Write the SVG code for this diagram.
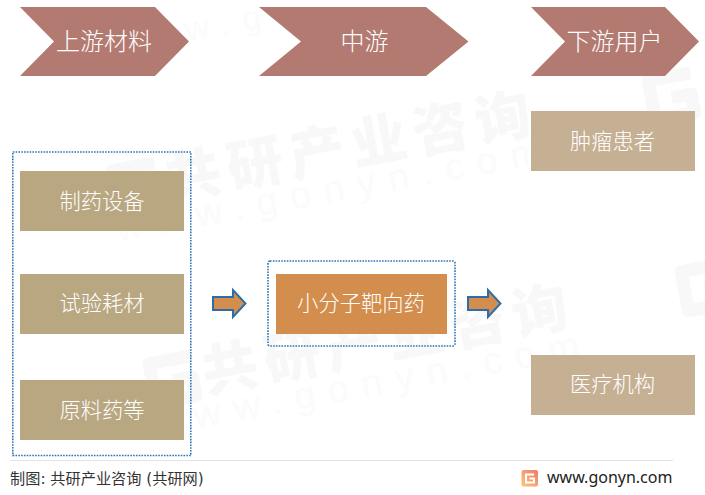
<svg xmlns="http://www.w3.org/2000/svg" width="705" height="495" viewBox="0 0 705 495">
<defs>
<linearGradient id="logo" x1="0" y1="1" x2="1" y2="0"><stop offset="0" stop-color="#fbc77a"/><stop offset="1" stop-color="#ef7a6c"/></linearGradient>
<polygon id="arrow" points="0,7 20,7 20,0 32.500,13.500 20,27 20,20 0,20"/>
<path id="wlogo" d="M50,7H7V47H47V28H27" fill="none" stroke="#f8f8f8" stroke-width="13" stroke-linejoin="round"/>
</defs>
<style>
text{font-family:"Noto Sans CJK SC","Liberation Sans",sans-serif}
.hd{fill:#b27a71}
.ht{fill:#fff;font-size:24px;font-weight:300;text-anchor:middle}
.t{fill:#fff;font-size:21.300px;font-weight:300;text-anchor:middle}
.a{fill:#b8a781}.b{fill:#c5b093}.c{fill:#d38e4d}
.dash{fill:none;stroke:#2e75b6;stroke-width:1.600;stroke-dasharray:1.600 1.200}
.ar{fill:#d38e4d;stroke:#2e6ea8;stroke-width:2}
.wm{fill:#f8f8f8;font-weight:900;font-size:56px;letter-spacing:7px}
.wu{fill:#fbfbfb;font-family:"Liberation Sans",sans-serif;font-size:38px;letter-spacing:13px}
</style>
<rect width="705" height="495" fill="#fff"/>
<g id="watermark">
<use href="#wlogo" transform="translate(104,165) rotate(-10.500)"/>
<use href="#wlogo" transform="translate(141,358) rotate(-10.500)"/>
<use href="#wlogo" transform="translate(640,75) rotate(-10.500)"/>
<use href="#wlogo" transform="translate(673,266) rotate(-10.500)"/>
<text class="wm" transform="translate(169,200) rotate(-10.500)">共研产业咨询</text>
<text class="wu" transform="translate(118,242) rotate(-10.500)">www.gonyn.com</text>
<text class="wm" transform="translate(206,393) rotate(-10.500)">共研产业咨询</text>
<text class="wu" transform="translate(156,436) rotate(-10.500)">www.gonyn.com</text>
<text class="wu" transform="translate(187,42) rotate(-10.500)" style="font-size:34px">w.g</text>
</g>
<g id="connectors">
<rect class="dash" x="12.800" y="152" width="178" height="303.500"/>
<rect class="dash" x="268" y="261" width="187" height="85" rx="2"/>
<use href="#arrow" class="ar" x="213" y="290"/>
<use href="#arrow" class="ar" x="468" y="290"/>
</g>
<g id="head-up"><polygon class="hd" points="20,7 155,7 189,41.500 155,76 20,76 54,41.500"/><text class="ht" x="104" y="50">上游材料</text></g>
<g id="head-mid"><polygon class="hd" points="259,7 426,7 468.500,41.500 426,76 259,76 301,41.500"/><text class="ht" x="364.500" y="50">中游</text></g>
<g id="head-down"><polygon class="hd" points="531,7 665,7 699,41.500 665,76 531,76 565,41.500"/><text class="ht" x="614.500" y="50">下游用户</text></g>
<g id="n1"><rect class="a" x="20" y="171" width="164" height="60"/><text class="t" x="102" y="209">制药设备</text></g>
<g id="n2"><rect class="a" x="20" y="274" width="164" height="60"/><text class="t" x="102" y="311">试验耗材</text></g>
<g id="n3"><rect class="a" x="20" y="380" width="164" height="60"/><text class="t" x="102" y="418">原料药等</text></g>
<g id="n4"><rect class="c" x="276" y="274" width="171" height="60"/><text class="t" x="361" y="311">小分子靶向药</text></g>
<g id="n5"><rect class="b" x="531" y="111" width="164" height="60"/><text class="t" x="612.500" y="149">肿瘤患者</text></g>
<g id="n6"><rect class="b" x="531" y="355" width="164" height="60"/><text class="t" x="612.500" y="392">医疗机构</text></g>
<g id="footer">
<line x1="10" y1="460.500" x2="673" y2="460.500" stroke="#e2e2e2"/>
<text x="10" y="484" font-size="15.200" fill="#333" style="font-family:'DejaVu Sans','Noto Sans CJK SC',sans-serif">制图: 共研产业咨询 (共研网)</text>
<rect x="521.500" y="470" width="16.500" height="16.500" rx="2" fill="url(#logo)"/>
<path d="M534,474.500H526V482.500H534V478.500H529.500" fill="none" stroke="#fff" stroke-width="2"/>
<text x="547" y="483" style="font-family:'Noto Sans','DejaVu Sans',sans-serif" font-size="16" fill="#222">www.gonyn.com</text>
</g>
</svg>
